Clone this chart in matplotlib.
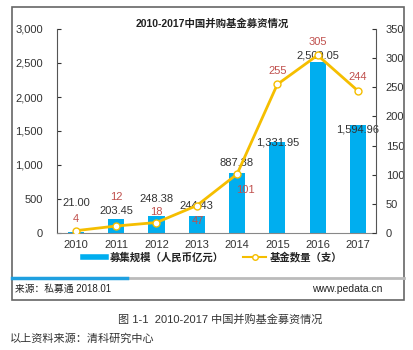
import matplotlib.pyplot as plt
from matplotlib.patches import Rectangle
from matplotlib.lines import Line2D
import matplotlib.ticker as mticker

plt.rcParams['font.family'] = ['Liberation Sans', 'Noto Sans CJK SC', 'DejaVu Sans']

# Data
years = ["2010", "2011", "2012", "2013", "2014", "2015", "2016", "2017"]
amount = [21.00, 203.45, 248.38, 244.43, 887.38, 1331.95, 2509.05, 1594.96]
amount_labels = ["21.00", "203.45", "248.38", "244.43", "887.38", "1,331.95", "2,509.05", "1,594.96"]
count = [4, 12, 18, 47, 101, 255, 305, 244]

# label offsets (points)
amount_off = [(0, 17), (0, 2), (0, 9), (0, 4), (0, 3), (0, -4), (0, 1), (0, -7)]
count_off = [(0, 5), (0, 17), (0, 4), (1, -15), (6, -15), (0, 6), (0, 6), (0, 6)]

W, H = 413, 350
fig = plt.figure(figsize=(W / 100, H / 100), dpi=100)
fig.patch.set_facecolor("white")

BLUE = "#00AEEF"
GOLD = "#F5BE00"
RED = "#C0504D"
TXT = "#333333"

ax = fig.add_axes([57 / W, (H - 233) / H, (376 - 57) / W, (233 - 29) / H])
x = list(range(len(years)))
ax.bar(x, amount, width=0.4, color=BLUE, zorder=2)
ax.set_xlim(-0.47, 7.45)
ax.set_ylim(0, 3000)
ax.set_yticks(range(0, 3001, 500))
ax.yaxis.set_major_formatter(mticker.FuncFormatter(lambda v, p: f"{int(v):,}"))
ax.set_xticks(x)
ax.set_xticklabels(years)
for s in ["top", "right"]:
    ax.spines[s].set_visible(False)
ax.spines["left"].set_color("#555555")
ax.spines["bottom"].set_color("#888888")
ax.tick_params(axis="x", length=0, pad=5, labelsize=8, colors=TXT)
ax.tick_params(axis="y", length=3, direction="in", pad=10, labelsize=8, colors=TXT)

for xi, v, lab, off in zip(x, amount, amount_labels, amount_off):
    ax.annotate(lab, (xi, v), xytext=off, textcoords="offset points",
                ha="center", va="bottom", fontsize=8, color=TXT, zorder=5)

ax2 = ax.twinx()
ax2.plot(x, count, color=GOLD, lw=2, marker="o", ms=5, mfc="white",
         mec=GOLD, mew=1, zorder=4)
ax2.set_ylim(0, 350)
ax2.set_yticks(range(0, 351, 50))
for s in ["top", "left", "bottom"]:
    ax2.spines[s].set_visible(False)
ax2.spines["right"].set_color("#555555")
ax2.tick_params(axis="y", length=3, direction="in", pad=7, labelsize=8, colors=TXT)

for xi, v, off in zip(x, count, count_off):
    ax2.annotate(str(v), (xi, v), xytext=off, textcoords="offset points",
                 ha="center", va="bottom", fontsize=8, color=RED, zorder=5)

# title
fig.text(212 / W, 1 - 24 / H, "2010-2017中国并购基金募资情况", ha="center", va="center",
         fontsize=7.5, fontweight="bold", color="#222222")

# legend
handles = [Line2D([0], [0], color=BLUE, lw=4),
           Line2D([0], [0], color=GOLD, lw=1.5, marker="o", ms=4, mfc="white", mec=GOLD)]
leg = fig.legend(handles, ["募集规模（人民币亿元）", "基金数量（支）"], loc="center",
                 bbox_to_anchor=(213 / W, 1 - 257 / H), ncol=2, frameon=False,
                 fontsize=7.5, handlelength=2.2, columnspacing=1.8, handletextpad=0.4)
for t in leg.get_texts():
    t.set_fontweight("bold")
    t.set_color("#222222")

# outer box and separator
fig.add_artist(Rectangle((12 / W, 1 - 300 / H), (404 - 12) / W, (300 - 7) / H,
                         transform=fig.transFigure, fill=False, ec="#666666", lw=1.2))
fig.add_artist(Line2D([127 / W, 404 / W], [1 - 278 / H] * 2, transform=fig.transFigure,
                      color="#BBBBBB", lw=2))
fig.add_artist(Line2D([12 / W, 127 / W], [1 - 278 / H] * 2, transform=fig.transFigure,
                      color="#1FA0E0", lw=2.5))
fig.text(15 / W, 1 - 289 / H, "来源：私募通 2018.01", ha="left", va="center",
         fontsize=7, color="#222222")
fig.text(382 / W, 1 - 289 / H, "www.pedata.cn", ha="right", va="center",
         fontsize=7.5, color="#222222")

# caption
fig.text(220 / W, 1 - 319 / H, "图 1-1  2010-2017 中国并购基金募资情况", ha="center",
         va="center", fontsize=8, color="#333333")
fig.text(10 / W, 1 - 339 / H, "以上资料来源：清科研究中心", ha="left", va="center",
         fontsize=8, color="#333333")

fig.savefig("out.png", dpi=100)
